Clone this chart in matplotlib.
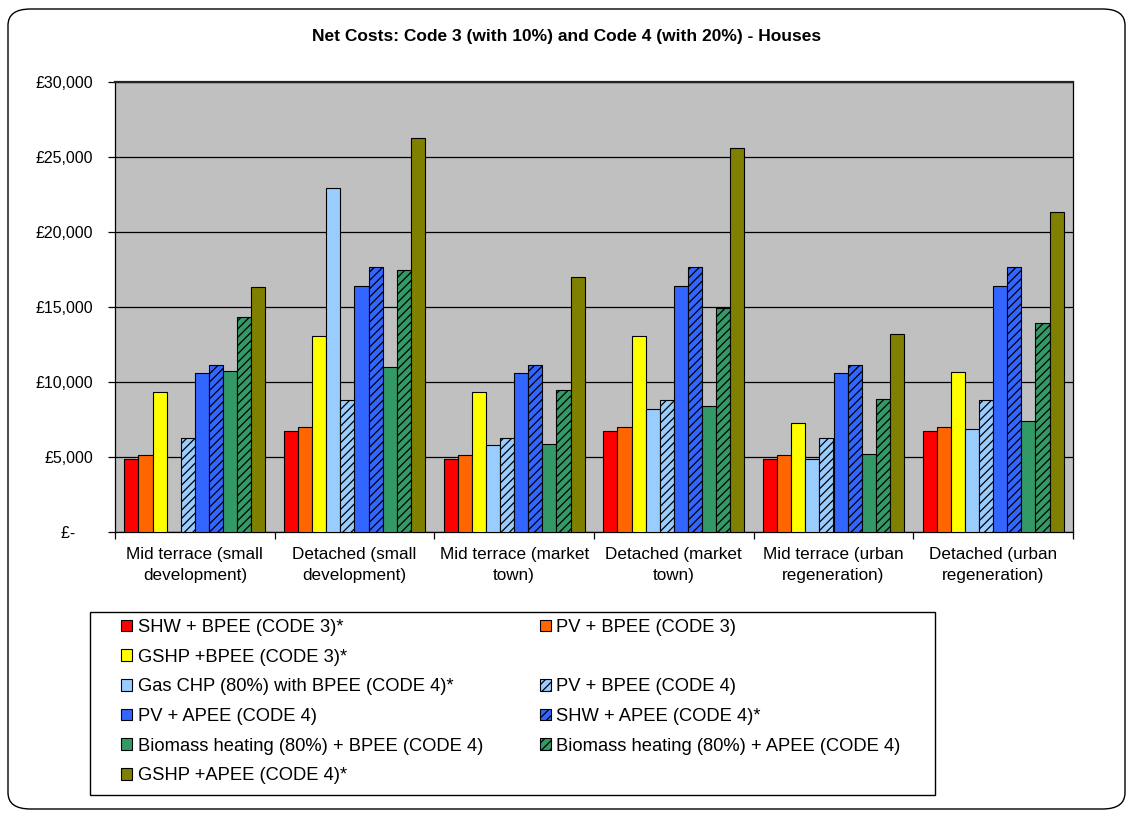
import matplotlib
matplotlib.use('Agg')
import matplotlib.pyplot as plt
from matplotlib.patches import Rectangle, FancyBboxPatch
from matplotlib.ticker import FuncFormatter
import numpy as np

plt.rcParams['font.family'] = ['Liberation Sans', 'DejaVu Sans']
plt.rcParams['hatch.linewidth'] = 0.9

# Categories (house type / location)
categories = ['Mid terrace (small\ndevelopment)', 'Detached (small\ndevelopment)',
              'Mid terrace (market\ntown)', 'Detached (market\ntown)',
              'Mid terrace (urban\nregeneration)', 'Detached (urban\nregeneration)']

# Net cost per option, one list per series (GBP)
shw_bpee_c3 = [4850, 6710, 4850, 6710, 4850, 6710]
pv_bpee_c3 = [5130, 7020, 5130, 7020, 5130, 7020]
gshp_bpee_c3 = [9350, 13090, 9350, 13090, 7240, 10670]
gaschp_bpee_c4 = [0, 22950, 5800, 8220, 4850, 6840]
pv_bpee_c4 = [6290, 8800, 6290, 8800, 6290, 8800]
pv_apee_c4 = [10580, 16420, 10580, 16420, 10580, 16420]
shw_apee_c4 = [11160, 17640, 11160, 17640, 11160, 17640]
bio_bpee_c4 = [10760, 10980, 5890, 8400, 5220, 7420]
bio_apee_c4 = [14310, 17490, 9440, 14910, 8890, 13910]
gshp_apee_c4 = [16330, 26240, 17000, 25600, 13180, 21310]

series = [
    ('SHW + BPEE (CODE 3)*', shw_bpee_c3, '#FF0000', None),
    ('PV + BPEE (CODE 3)', pv_bpee_c3, '#FF6600', None),
    ('GSHP +BPEE (CODE 3)*', gshp_bpee_c3, '#FFFF00', None),
    ('Gas CHP (80%) with BPEE (CODE 4)*', gaschp_bpee_c4, '#99CCFF', None),
    ('PV + BPEE (CODE 4)', pv_bpee_c4, '#99CCFF', '////'),
    ('PV + APEE (CODE 4)', pv_apee_c4, '#3366FF', None),
    ('SHW + APEE (CODE 4)*', shw_apee_c4, '#3366FF', '////'),
    ('Biomass heating (80%) + BPEE (CODE 4)', bio_bpee_c4, '#339966', None),
    ('Biomass heating (80%) + APEE (CODE 4)', bio_apee_c4, '#339966', '////'),
    ('GSHP +APEE (CODE 4)*', gshp_apee_c4, '#808000', None),
]

W, H = 1130, 815
fig = plt.figure(figsize=(W / 100, H / 100), dpi=100)

# rounded outer border of the chart area
fig.patches.append(FancyBboxPatch((8 / W, 6 / H), 1117 / W, 800 / H,
                                  boxstyle='round,pad=0,rounding_size=0.02',
                                  transform=fig.transFigure, facecolor='white',
                                  edgecolor='black', linewidth=1.0, zorder=-10))

ax = fig.add_axes([115 / W, 1 - 532 / H, (1073 - 115) / W, (532 - 82) / H])
ax.set_facecolor('#C0C0C0')

x = np.arange(len(categories))
bw = 0.0883
handles = {}
for j, (label, vals, col, hatch) in enumerate(series):
    bars = ax.bar(x + (j - 4.5) * bw, vals, width=bw, color=col, edgecolor='black',
                  linewidth=0.8, hatch=hatch, zorder=3)
    handles[label] = bars[0]

ax.set_ylim(0, 30000)
ax.set_xlim(-0.5, len(categories) - 0.5)
ax.set_yticks(np.arange(0, 30001, 5000))
ax.yaxis.set_major_formatter(FuncFormatter(lambda v, p: '£-    ' if v == 0 else '£{:,.0f}'.format(v)))
ax.grid(axis='y', color='black', linewidth=0.9, zorder=1)
ax.tick_params(axis='y', direction='out', length=5, width=0.9, pad=11, labelsize=11.5)

ax.set_xticks(x)
ax.set_xticklabels(categories, fontsize=12.3, linespacing=1.5)
ax.tick_params(axis='x', which='major', length=0, pad=11)
ax.set_xticks(np.arange(-0.5, len(categories)), minor=True)
ax.tick_params(axis='x', which='minor', direction='out', length=5, width=0.9)

for s in ax.spines.values():
    s.set_color('black')
    s.set_linewidth(0.9)
ax.spines['top'].set_linewidth(1.6)
ax.spines['top'].set_color('#222222')

fig.text(567 / W, 1 - 37 / H, 'Net Costs: Code 3 (with 10%) and Code 4 (with 20%) - Houses',
         ha='center', va='center', fontsize=12.5, fontweight='bold')

# legend box
fig.patches.append(Rectangle((90 / W, 1 - 795 / H), 845 / W, 183 / H, transform=fig.transFigure,
                             facecolor='white', edgecolor='black', linewidth=1.0, zorder=1))

blank = Rectangle((0, 0), 1, 1, facecolor='none', edgecolor='none')
col1 = ['SHW + BPEE (CODE 3)*', 'GSHP +BPEE (CODE 3)*', 'Gas CHP (80%) with BPEE (CODE 4)*',
        'PV + APEE (CODE 4)', 'Biomass heating (80%) + BPEE (CODE 4)', 'GSHP +APEE (CODE 4)*']
col2 = ['PV + BPEE (CODE 3)', None, 'PV + BPEE (CODE 4)', 'SHW + APEE (CODE 4)*',
        'Biomass heating (80%) + APEE (CODE 4)', None]
hs, ls = [], []
for name in col1 + col2:
    if name is None:
        hs.append(blank)
        ls.append('')
    else:
        hs.append(handles[name])
        ls.append(name)

fig.legend(hs, ls, ncol=2, loc='upper left', bbox_to_anchor=(121 / W, 1 - 619 / H),
           frameon=False, fontsize=13.2, handlelength=0.6, handleheight=0.6,
           handletextpad=0.3, labelspacing=0.69, columnspacing=3.1, borderpad=0,
           borderaxespad=0)

fig.savefig('out.png', dpi=100)
